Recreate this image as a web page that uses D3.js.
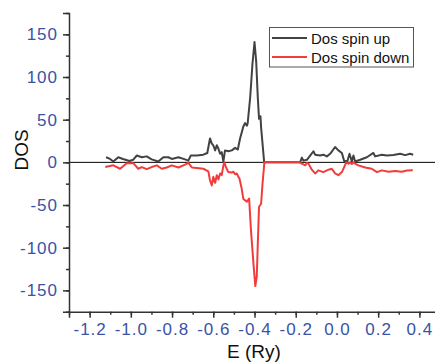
<!DOCTYPE html>
<html>
<head>
<meta charset="utf-8">
<script src="https://cdn.jsdelivr.net/npm/d3@7/dist/d3.min.js"></script>
<style>
	body { margin: 0; background: #fff; }
	svg { display: block; font-family: "Liberation Sans", Arial, sans-serif; }
</style>
</head>
<body>
<div id="chart"></div>
<script>
'use strict';

// spin up DOS
var energyUp = [-1.120, -1.101, -1.085, -1.061, -1.038, -1.007, -0.989, -0.971, -0.947, -0.923,
	-0.899, -0.867, -0.842, -0.818, -0.801, -0.769, -0.737, -0.721, -0.709, -0.680,
	-0.648, -0.629, -0.616, -0.607, -0.600, -0.591, -0.583, -0.575, -0.567, -0.559,
	-0.551, -0.543, -0.527, -0.510, -0.494, -0.481, -0.470, -0.462, -0.454, -0.446,
	-0.437, -0.433, -0.421, -0.410, -0.400, -0.392, -0.384, -0.378, -0.371, -0.368,
	-0.353, -0.179, -0.170, -0.163, -0.146, -0.130, -0.114, -0.106, -0.082, -0.066,
	-0.049, -0.033, -0.009, 0.007, 0.024, 0.035, 0.051, 0.061, 0.072, 0.080,
	0.088, 0.113, 0.145, 0.177, 0.185, 0.218, 0.242, 0.274, 0.307, 0.331,
	0.355, 0.370];
var dosUp = [6, 4, 1, 6, 4, 1.5, 3, 8, 6, 7,
	3.5, 1, 6, 6, 4, 6, 3.5, 2, 8, 8,
	9, 11, 28, 22, 20, 14, 20, 16, 10, 12,
	1, 14, 13, 14, 17, 15, 28, 35, 42, 46,
	43, 46, 76, 115, 141, 119, 76, 51, 54, 41,
	0, 0, 5.5, 2, 3, 8, 13, 9, 8, 9,
	7, 10, 18, 14, 11, 1.5, 1.5, 10, 1, 8,
	1, 3, 6, 11, 7, 9, 8, 8.5, 10, 8.5,
	10, 9];

// spin down DOS
var energyDown = [-1.124, -1.085, -1.052, -1.020, -0.988, -0.964, -0.947, -0.923, -0.899, -0.874,
	-0.850, -0.826, -0.801, -0.769, -0.737, -0.721, -0.704, -0.680, -0.648, -0.624,
	-0.616, -0.607, -0.600, -0.591, -0.583, -0.575, -0.567, -0.559, -0.551, -0.546,
	-0.539, -0.527, -0.510, -0.502, -0.494, -0.486, -0.478, -0.473, -0.462, -0.454,
	-0.437, -0.426, -0.417, -0.405, -0.396, -0.389, -0.384, -0.378, -0.368, -0.361,
	-0.352, -0.182, -0.170, -0.154, -0.146, -0.138, -0.122, -0.106, -0.090, -0.066,
	-0.041, -0.025, -0.009, 0.007, 0.024, 0.035, 0.045, 0.056, 0.064, 0.072,
	0.080, 0.088, 0.104, 0.137, 0.169, 0.194, 0.218, 0.250, 0.283, 0.315,
	0.339, 0.368];
var dosDown = [-5.5, -3.5, -7.5, -1, -1, -7.5, -5.5, -8, -5.5, -3.5,
	-7.5, -6, -3.5, -6, -2.7, -0.5, -6, -6.7, -7.5, -10.5,
	-21, -27, -17, -24, -15, -20, -13, -15, -3.5, 0,
	-5.5, -11.4, -12, -11, -14, -13, -17, -19, -31, -43,
	-46, -42.5, -80, -119, -145, -134, -95, -52, -48.5, -25,
	0, 0, -1.5, -3.5, -0.8, -1.5, -8.6, -13, -9.4, -11.4,
	-8.6, -7.5, -13, -15, -11.4, -5.5, 0, -1.5, 0, -2,
	0, -1.5, -3.5, -6, -7.5, -11.4, -9.4, -11, -10, -11,
	-9.5, -9.4];

var seriesNames = ['Dos spin up', 'Dos spin down'];
var seriesColors = ['#424242', '#f23c3c'];

var xTicks = [-1.2, -1.0, -0.8, -0.6, -0.4, -0.2, 0.0, 0.2, 0.4];
var yTicks = [-150, -100, -50, 0, 50, 100, 150];

(function() {
	var width = 435, height = 363;
	var plotLeft = 69, plotRight = 440, plotTop = 13, plotBottom = 311.7;
	var axisColor = '#333';
	var labelColor = '#3a53a4';

	var svg = d3.select('#chart').append('svg')
		.attr('width', width)
		.attr('height', height);

	var xScale = d3.scaleLinear().domain([-1.3, 0.5]).range([plotLeft, plotRight]);
	var yScale = d3.scaleLinear().domain([-175, 175]).range([plotBottom, plotTop]);

	// zero line first so the curves sit on top
	svg.append('line')
		.attr('x1', plotLeft).attr('x2', width)
		.attr('y1', yScale(0)).attr('y2', yScale(0))
		.attr('stroke', '#000')
		.attr('stroke-width', 1);

	var line = d3.line()
		.x(function(d) { return xScale(d[0]); })
		.y(function(d) { return yScale(d[1]); });

	var upData = energyUp.map(function(e, i) { return [e, dosUp[i]]; });
	var downData = energyDown.map(function(e, i) { return [e, dosDown[i]]; });

	[upData, downData].forEach(function(data, i) {
		svg.append('path')
			.datum(data)
			.attr('d', line)
			.attr('fill', 'none')
			.attr('stroke', seriesColors[i])
			.attr('stroke-width', 2)
			.attr('stroke-linejoin', 'round');
	});

	// minor ticks
	var xMinor = d3.range(-13, 5).map(function(d) { return d / 10; });
	var yMinor = d3.range(-175, 176, 25);

	var xAxis = svg.append('g').attr('transform', 'translate(0,' + plotBottom + ')');
	xAxis.call(d3.axisBottom(xScale).tickValues(xMinor).tickSize(3).tickFormat(''));
	xAxis.append('g').call(d3.axisBottom(xScale).tickValues(xTicks).tickSize(6).tickPadding(5)
		.tickFormat(function(d) { return d.toFixed(1); }));

	var yAxis = svg.append('g').attr('transform', 'translate(' + plotLeft + ',0)');
	yAxis.call(d3.axisLeft(yScale).tickValues(yMinor).tickSize(3).tickFormat(''));
	yAxis.append('g').call(d3.axisLeft(yScale).tickValues(yTicks).tickSize(6).tickPadding(5)
		.tickFormat(function(d) { return String(d); }));

	// the inner major-tick axes keep no domain path of their own
	xAxis.select('g .domain').remove();
	yAxis.select('g .domain').remove();

	svg.selectAll('.domain').attr('stroke', axisColor).attr('stroke-width', 1.5);
	svg.selectAll('.tick line').attr('stroke', axisColor).attr('stroke-width', 1.5);
	svg.selectAll('.tick text')
		.attr('fill', labelColor)
		.style('font-size', '17px')
		.style('letter-spacing', '1px')
		.style('font-family', '"Liberation Sans", Arial, sans-serif');

	// axis titles
	svg.append('text')
		.attr('x', 254)
		.attr('y', 358)
		.attr('text-anchor', 'middle')
		.style('font-size', '19px')
		.attr('fill', '#111')
		.text('E (Ry)');

	svg.append('text')
		.attr('transform', 'translate(28,150) rotate(-90)')
		.attr('text-anchor', 'middle')
		.style('font-size', '19px')
		.attr('fill', '#111')
		.text('DOS');

	// legend
	var legend = svg.append('g');
	legend.append('rect')
		.attr('x', 269.5).attr('y', 27.5)
		.attr('width', 144).attr('height', 39.5)
		.attr('fill', '#fff')
		.attr('stroke', '#555')
		.attr('stroke-width', 1);

	seriesNames.forEach(function(name, i) {
		var y = 38 + i * 19;
		legend.append('line')
			.attr('x1', 272).attr('x2', 307)
			.attr('y1', y).attr('y2', y)
			.attr('stroke', seriesColors[i])
			.attr('stroke-width', 2);
		legend.append('text')
			.attr('x', 311)
			.attr('y', y + 5.5)
			.style('font-size', '15px')
			.attr('fill', '#111')
			.text(name);
	});
})();
</script>
</body>
</html>
